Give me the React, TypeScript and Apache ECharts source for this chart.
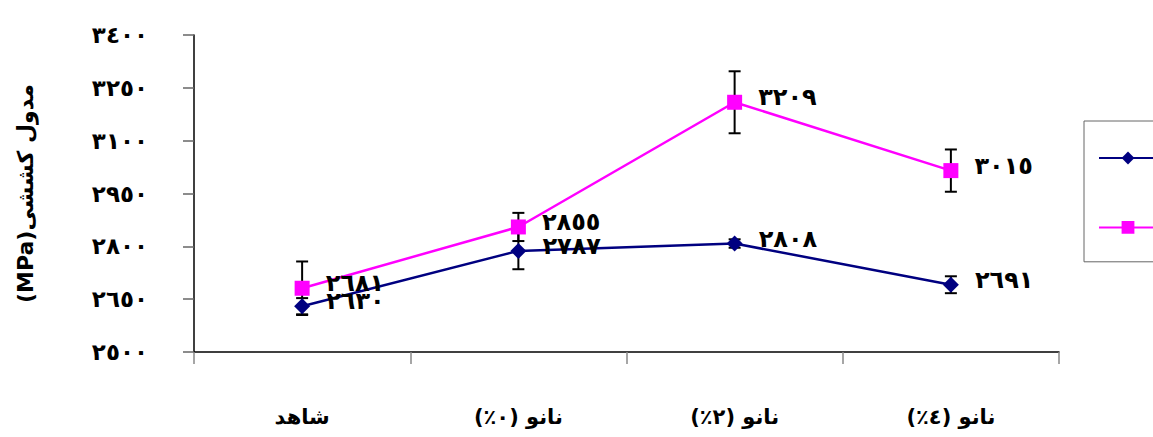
import React, { useEffect, useRef } from "react";
import * as echarts from "echarts";

const categories = ["شاهد", "نانو (٠٪)", "نانو (٢٪)", "نانو (٤٪)"];
const seriesNames = ["سری ۱", "سری ۲"];
const blueValues = [2630, 2787, 2808, 2691];
const pinkValues = [2681, 2855, 3209, 3015];
const blueErrors = [23, 52, 12, 24];
const pinkErrors = [76, 40, 88, 60];
const yTicks = [2500, 2650, 2800, 2950, 3100, 3250, 3400];
const yAxisTitle = "(MPa)مدول کششی";

const toArabic = (n: number | string) =>
  String(n).replace(/[0-9]/g, (d) => "٠١٢٣٤٥٦٧٨٩"[Number(d)]);

const FONT = "'DejaVu Sans', 'Liberation Sans', sans-serif";

export default function App() {
  const ref = useRef<HTMLDivElement>(null);
  useEffect(() => {
    document.body.style.margin = "0";
    if (!ref.current) return;
    const chart = echarts.init(ref.current, undefined, { renderer: "svg" });

    const errData = (vals: number[], errs: number[]) =>
      vals.map((v, i) => [i, v - errs[i], v + errs[i]]);

    const renderErr = (params: any, api: any) => {
      const x = api.value(0);
      const lo = api.coord([x, api.value(1)]);
      const hi = api.coord([x, api.value(2)]);
      const w = 6;
      const st = { stroke: "#000", lineWidth: 2 };
      return {
        type: "group",
        children: [
          { type: "line", shape: { x1: lo[0], y1: lo[1], x2: hi[0], y2: hi[1] }, style: st },
          { type: "line", shape: { x1: lo[0] - w, y1: lo[1], x2: lo[0] + w, y2: lo[1] }, style: st },
          { type: "line", shape: { x1: hi[0] - w, y1: hi[1], x2: hi[0] + w, y2: hi[1] }, style: st },
        ],
      };
    };

    const labelCfg = {
      show: true,
      position: "right",
      distance: 16,
      offset: [0, -5],
      color: "#000",
      fontSize: 24,
      fontWeight: "bold",
      fontFamily: FONT,
      formatter: (p: any) => toArabic(p.value),
    };

    chart.setOption({
      animation: false,
      backgroundColor: "#fff",
      grid: { left: 194, right: 94, top: 35, bottom: 85 },
      legend: {
        data: seriesNames,
        orient: "vertical",
        left: 1084,
        top: 121,
        padding: [29, 14, 28, 14],
        itemWidth: 58,
        itemHeight: 16,
        itemGap: 55,
        borderColor: "#666",
        borderWidth: 1,
        formatter: () => "",
        textStyle: { fontSize: 16, fontFamily: FONT, color: "#000" },
      },
      xAxis: {
        type: "category",
        data: categories,
        axisLine: { lineStyle: { color: "#000", width: 1.5 } },
        axisTick: { show: true, length: 12, lineStyle: { color: "#888", width: 1.5 } },
        axisLabel: {
          margin: 54,
          color: "#000",
          fontSize: 21,
          fontWeight: "bold",
          fontFamily: FONT,
        },
      },
      yAxis: {
        type: "value",
        min: 2500,
        max: 3400,
        name: yAxisTitle,
        nameLocation: "middle",
        nameRotate: 90,
        nameGap: 158,
        nameTextStyle: { fontSize: 22, fontWeight: "bold", fontFamily: FONT, color: "#000" },
        splitLine: { show: false },
        axisLine: { show: true, lineStyle: { color: "#000", width: 1.5 } },
        axisTick: { show: true, length: 11, customValues: yTicks, lineStyle: { color: "#666", width: 1.5 } },
        axisLabel: {
          customValues: yTicks,
          margin: 46,
          color: "#000",
          fontSize: 23,
          fontWeight: "bold",
          fontFamily: FONT,
          formatter: (v: number) => toArabic(v),
        },
      },
      series: [
        {
          type: "custom",
          renderItem: renderErr,
          data: errData(blueValues, blueErrors),
          z: 1,
          silent: true,
        },
        {
          type: "custom",
          renderItem: renderErr,
          data: errData(pinkValues, pinkErrors),
          z: 1,
          silent: true,
        },
        {
          name: seriesNames[0],
          type: "line",
          data: blueValues,
          symbol: "diamond",
          symbolSize: 16,
          lineStyle: { color: "#000080", width: 2.5 },
          itemStyle: { color: "#000080" },
          label: labelCfg,
          z: 3,
        },
        {
          name: seriesNames[1],
          type: "line",
          data: pinkValues,
          symbol: "rect",
          symbolSize: 15,
          lineStyle: { color: "#FF00FF", width: 2.5 },
          itemStyle: { color: "#FF00FF" },
          label: labelCfg,
          z: 3,
        },
      ],
    });
    return () => chart.dispose();
  }, []);
  return <div ref={ref} style={{ width: 1153, height: 437 }} />;
}
